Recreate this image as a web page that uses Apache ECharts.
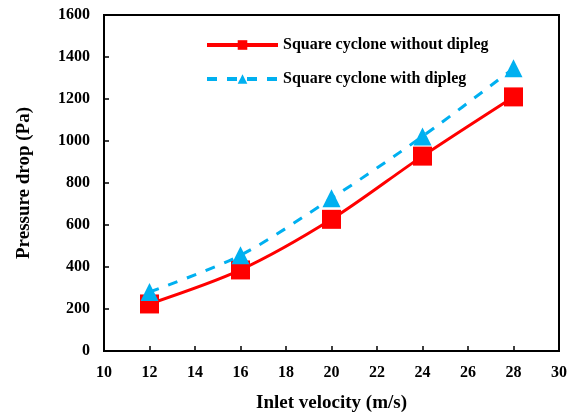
<!DOCTYPE html>
<html><head><meta charset="utf-8">
<script src="https://cdn.jsdelivr.net/npm/echarts@6/dist/echarts.min.js"></script>
<style>html,body{margin:0;padding:0;background:#fff}#c{width:570px;height:419px}</style>
</head><body><div id="c"></div>
<script>
const velocity = [12, 16, 20, 24, 28];
const withoutDipleg = [224, 386, 627, 928, 1210];
const withDipleg = [281, 456, 727, 1022, 1346];
const seriesNames = ['Square cyclone without dipleg', 'Square cyclone with dipleg'];

const font = '"Liberation Serif", "Times New Roman", serif';
const chart = echarts.init(document.getElementById('c'));
chart.setOption({
  animation: false,
  grid: {left: 104, top: 15, right: 11, bottom: 68, show: true, borderColor: '#000', borderWidth: 2},
  legend: {
    left: 200, top: 32, orient: 'vertical', itemGap: 18, itemWidth: 71, itemHeight: 12,
    lineStyle: {width: 4},
    textStyle: {fontFamily: font, fontWeight: 'bold', fontSize: 16, color: '#000'},
    data: seriesNames
  },
  xAxis: {
    type: 'value', min: 10, max: 30, interval: 2,
    name: 'Inlet velocity (m/s)', nameLocation: 'middle', nameGap: 43,
    nameTextStyle: {fontFamily: font, fontWeight: 'bold', fontSize: 19, color: '#000'},
    axisLine: {lineStyle: {color: '#000', width: 2}},
    axisTick: {inside: true, length: 5, lineStyle: {color: '#000', width: 1.5}},
    axisLabel: {fontFamily: font, fontWeight: 'bold', fontSize: 16, color: '#000', margin: 14},
    splitLine: {show: false}
  },
  yAxis: {
    type: 'value', min: 0, max: 1600, interval: 200,
    name: 'Pressure drop (Pa)', nameLocation: 'middle', nameGap: 70,
    nameTextStyle: {fontFamily: font, fontWeight: 'bold', fontSize: 19, color: '#000'},
    axisLine: {show: true, lineStyle: {color: '#000', width: 2}},
    axisTick: {show: true, inside: true, length: 5, lineStyle: {color: '#000', width: 1.5}},
    axisLabel: {fontFamily: font, fontWeight: 'bold', fontSize: 16, color: '#000', margin: 14,
      formatter: v => String(v)},
    splitLine: {show: false}
  },
  series: [
    {
      name: seriesNames[0], type: 'line', smooth: 0.3,
      data: velocity.map((v, i) => [v, withoutDipleg[i]]),
      symbol: 'rect', symbolSize: 19,
      lineStyle: {color: '#FF0000', width: 3},
      itemStyle: {color: '#FF0000'}, z: 2
    },
    {
      name: seriesNames[1], type: 'line', smooth: 0.3,
      data: velocity.map((v, i) => [v, withDipleg[i]]),
      symbol: 'triangle', symbolSize: 18,
      lineStyle: {color: '#00B0F0', width: 3, type: [10, 10]},
      itemStyle: {color: '#00B0F0'}, z: 3
    }
  ]
});
</script></body></html>
